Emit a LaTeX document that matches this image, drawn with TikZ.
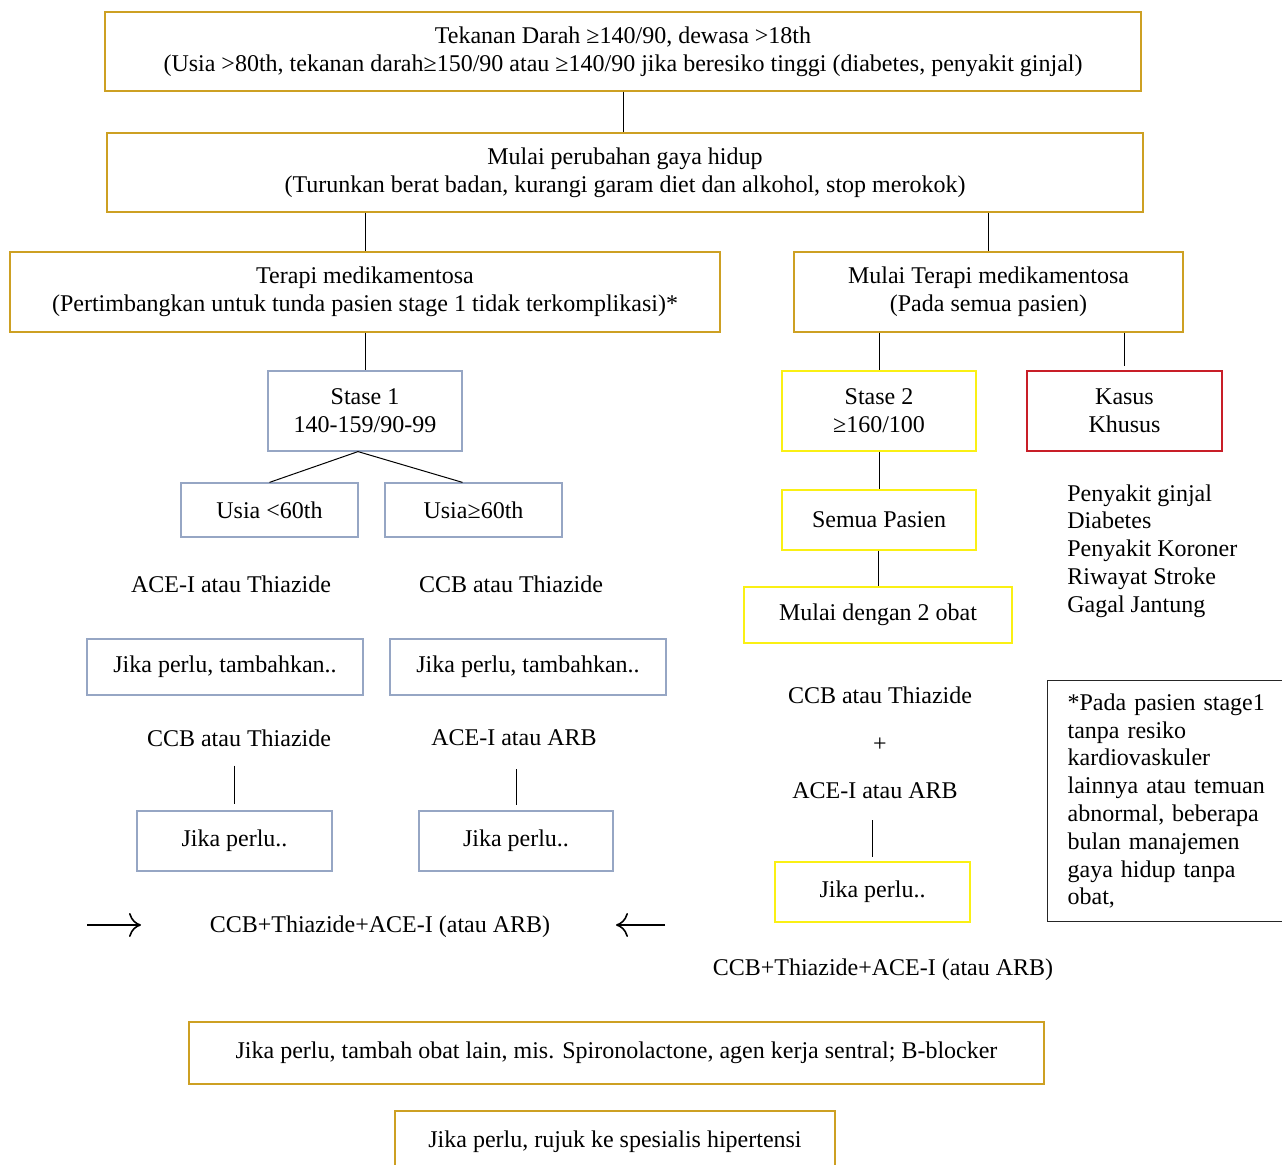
\documentclass[tikz,border=0pt]{standalone}
\usepackage{fontspec}
\setmainfont{Liberation Serif}
\usepackage{tikz}
\usetikzlibrary{arrows.meta}
\definecolor{boxgold}{RGB}{205,160,35}
\definecolor{boxblue}{RGB}{150,166,196}
\definecolor{boxyellow}{RGB}{250,240,20}
\definecolor{boxred}{RGB}{200,30,40}

\begin{document}
\begin{tikzpicture}[x=0.5pt, y=-0.5pt,
        every node/.style={font=\fontsize{12}{13.9}\selectfont},
        box/.style={draw, line width=0.6pt, align=center, inner sep=0pt},
        goldbox/.style={box, draw=boxgold},
        bluebox/.style={box, draw=boxblue},
        yellowbox/.style={box, draw=boxyellow},
        redbox/.style={box, draw=boxred},
        txt/.style={align=center},
        link/.style={line width=0.5pt},
        pointer/.style={-{To[length=6pt, width=12pt, line width=0.8pt]}, line width=0.8pt}]
        \useasboundingbox (0,0) rectangle (1282,1165);

        \node[goldbox, minimum width=518pt, minimum height=39.5pt]   (tekanan) at (623,51.5)   {Tekanan Darah ≥140/90, dewasa >18th\\(Usia >80th, tekanan darah≥150/90 atau ≥140/90 jika beresiko tinggi (diabetes, penyakit ginjal)};
        \node[goldbox, minimum width=518pt, minimum height=39.5pt]   (gaya)    at (625,172.5)  {Mulai perubahan gaya hidup\\(Turunkan berat badan, kurangi garam diet dan alkohol, stop merokok)};
        \node[goldbox, minimum width=355pt, minimum height=40pt]     (terapi)  at (365,292)    {Terapi medikamentosa\\(Pertimbangkan untuk tunda pasien stage 1 tidak terkomplikasi)*};
        \node[goldbox, minimum width=194.5pt, minimum height=40pt]   (mulai)   at (988.5,292)  {Mulai Terapi medikamentosa\\(Pada semua pasien)};

        \node[bluebox, minimum width=97pt, minimum height=40pt]      (stase1)  at (365,411)    {Stase 1\\140-159/90-99};
        \node[bluebox, minimum width=88.5pt, minimum height=27pt]    (usiaA)   at (269.5,510)  {Usia <60th};
        \node[bluebox, minimum width=88.5pt, minimum height=27pt]    (usiaB)   at (473.5,510)  {Usia≥60th};
        \node[txt]                                                   (aceA)    at (231,584)    {ACE-I atau Thiazide};
        \node[txt]                                                   (ccbA)    at (511,584)    {CCB atau Thiazide};
        \node[bluebox, minimum width=138pt, minimum height=28pt]     (tambahA) at (225,667)    {Jika perlu, tambahkan..};
        \node[bluebox, minimum width=138pt, minimum height=28pt]     (tambahB) at (528,667)    {Jika perlu, tambahkan..};
        \node[txt]                                                   (ccbB)    at (239,738)    {CCB atau Thiazide};
        \node[txt]                                                   (aceB)    at (514,738)    {ACE-I atau ARB};
        \node[bluebox, minimum width=97.5pt, minimum height=30pt]    (jikaA)   at (234.5,841)  {Jika perlu..};
        \node[bluebox, minimum width=97pt, minimum height=30pt]      (jikaB)   at (516,841)    {Jika perlu..};
        \node[txt]                                                   (comboA)  at (380,927)    {CCB+Thiazide+ACE-I (atau ARB)};

        \node[yellowbox, minimum width=97pt, minimum height=40pt]    (stase2)  at (879,411)    {Stase 2\\≥160/100};
        \node[redbox, minimum width=97.5pt, minimum height=40pt]     (kasus)   at (1124.5,411) {Kasus\\Khusus};
        \node[align=left, anchor=north west, inner sep=0pt]          (khusus)  at (1067,484)   {Penyakit ginjal\\Diabetes\\Penyakit Koroner\\Riwayat Stroke\\Gagal Jantung};
        \node[yellowbox, minimum width=97pt, minimum height=30pt]    (semua)   at (879,520)    {Semua Pasien};
        \node[yellowbox, minimum width=134pt, minimum height=28pt]   (duaobat) at (878,615)    {Mulai dengan 2 obat};
        \node[txt]                                                   (ccbC)    at (880,695)    {CCB atau Thiazide};
        \node[txt]                                                   (plus)    at (880,745)    {+};
        \node[txt]                                                   (aceC)    at (875,791)    {ACE-I atau ARB};
        \node[yellowbox, minimum width=97.5pt, minimum height=30pt]  (jikaC)   at (872.5,892)  {Jika perlu..};
        \node[txt]                                                   (comboB)  at (883,970)    {CCB+Thiazide+ACE-I (atau ARB)};

        \node[draw=black!85, line width=0.6pt, anchor=north west, align=left, text width=110pt,
              inner xsep=10pt, minimum height=120.5pt]               (catatan) at (1047,680)   {*Pada pasien stage1\\tanpa resiko\\kardiovaskuler\\lainnya atau temuan\\abnormal, beberapa\\bulan manajemen\\gaya hidup tanpa\\obat,};

        \node[goldbox, minimum width=427.5pt, minimum height=31pt]   (lain)    at (616.5,1053) {Jika perlu, tambah obat lain, mis. Spironolactone, agen kerja sentral; B-blocker};
        \node[goldbox, minimum width=220pt, minimum height=31pt]     (rujuk)   at (615,1142)   {Jika perlu, rujuk ke spesialis hipertensi};

        \coordinate (arrA1) at (87,925);
        \coordinate (arrA2) at (141,925);
        \coordinate (arrB1) at (665,925);
        \coordinate (arrB2) at (616,925);

        \draw[link] (tekanan.south) -- (tekanan.south |- gaya.north);
        \draw[link] (terapi.north |- gaya.south) -- (terapi.north);
        \draw[link] (mulai.north |- gaya.south) -- (mulai.north);
        \draw[link] (terapi.south) -- (stase1.north);
        \draw[link] ([xshift=-3.5pt]stase1.south) -- (usiaA.north);
        \draw[link] ([xshift=-3.5pt]stase1.south) -- ([xshift=-5.5pt]usiaB.north);
        \draw[link, shorten <=6pt, shorten >=3pt] (jikaA.north |- ccbB.south) -- (jikaA.north);
        \draw[link, shorten <=8pt, shorten >=2.5pt] (jikaB.north |- aceB.south) -- (jikaB.north);
        \draw[pointer] (arrA1) -- (arrA2);
        \draw[pointer] (arrB1) -- (arrB2);

        \draw[link] (stase2.north |- mulai.south) -- (stase2.north);
        \draw[link, shorten >=2pt] (kasus.north |- mulai.south) -- (kasus.north);
        \draw[link] (stase2.south) -- (semua.north);
        \draw[link] (duaobat.north |- semua.south) -- (duaobat.north);
        \draw[link, shorten <=7pt, shorten >=2pt] (jikaC.north |- aceC.south) -- (jikaC.north);
    \end{tikzpicture}
\end{document}
